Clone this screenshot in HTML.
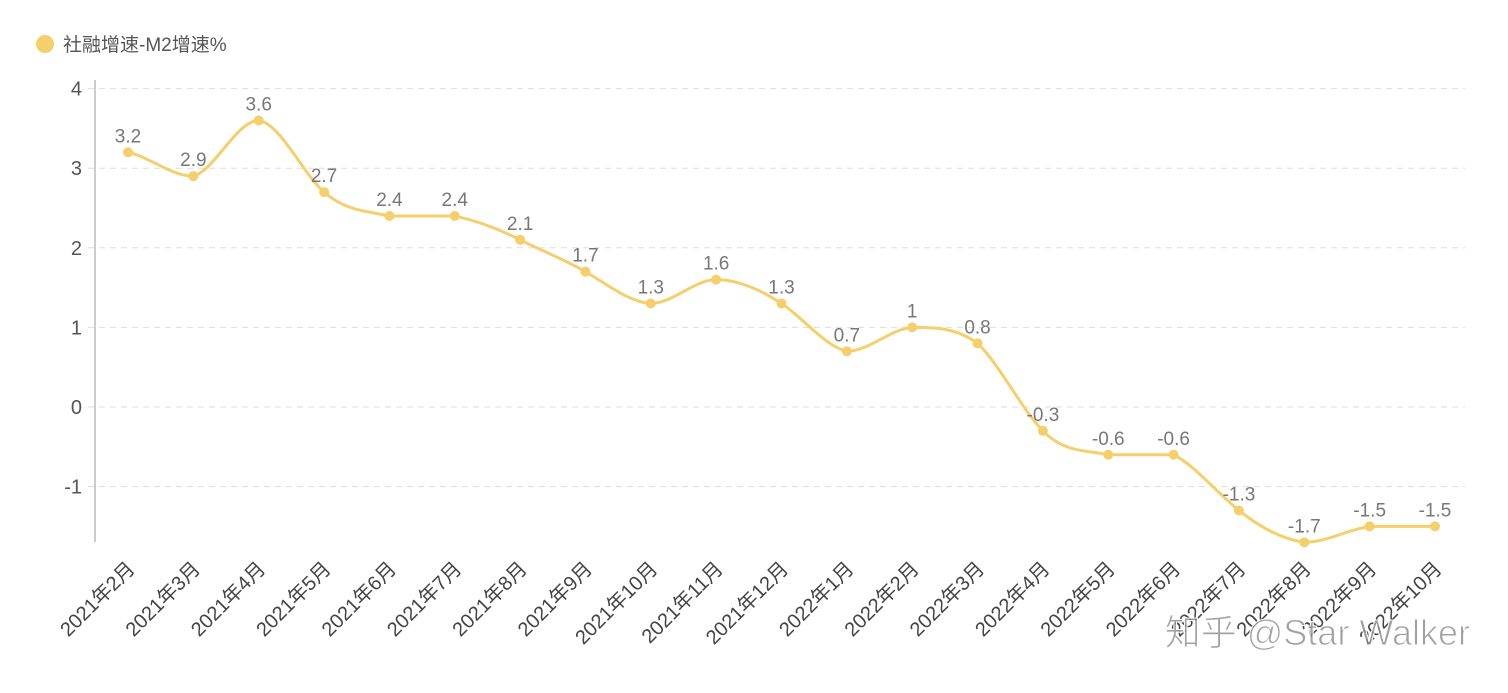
<!DOCTYPE html>
<html><head><meta charset="utf-8"><style>
html,body{margin:0;padding:0;background:#fff;}
svg{display:block;font-family:"Liberation Sans","Noto Sans CJK SC",sans-serif;}
</style></head><body>
<svg id="chart" width="1508" height="693">
  <g>
    <circle cx="45" cy="44" r="9" fill="#f5cf6b"/>
    <text x="63" y="51" font-size="19" fill="#555">社融增速-M2增速%</text>
  </g>
  <g id="grid"></g>
  <line x1="95" y1="80" x2="95" y2="542" stroke="#ccc" stroke-width="2"/>
  <g id="yticks"></g>
  <g id="xticks"></g>
  <path id="line" fill="none" stroke="#f5cf6b" stroke-width="3"/>
  <g id="points"></g>
  <text x="1470" y="645" text-anchor="end" font-size="36" fill="#8a8a8a" fill-opacity="0.8" stroke="#fff" stroke-width="1">知乎 @Star Walker</text>
</svg>
<script>
const categories=["2021年2月","2021年3月","2021年4月","2021年5月","2021年6月","2021年7月","2021年8月","2021年9月","2021年10月","2021年11月","2021年12月","2022年1月","2022年2月","2022年3月","2022年4月","2022年5月","2022年6月","2022年7月","2022年8月","2022年9月","2022年10月"];
const values=[3.2,2.9,3.6,2.7,2.4,2.4,2.1,1.7,1.3,1.6,1.3,0.7,1,0.8,-0.3,-0.6,-0.6,-1.3,-1.7,-1.5,-1.5];
const yTicks=[4,3,2,1,0,-1];
const NS="http://www.w3.org/2000/svg";
const x0=128,x1=1435,yZero=407,unit=79.6;
function xPos(i){return x0+(x1-x0)*i/(categories.length-1);}
function yPos(v){return yZero-v*unit;}
const grid=document.getElementById('grid'),yt=document.getElementById('yticks'),xt=document.getElementById('xticks');
yTicks.forEach(t=>{
  const l=document.createElementNS(NS,'line');
  l.setAttribute('x1',88);l.setAttribute('x2',1465);l.setAttribute('y1',yPos(t));l.setAttribute('y2',yPos(t));
  l.setAttribute('stroke','#ddd');l.setAttribute('stroke-dasharray','6,5');
  
  
  grid.appendChild(l);
  const tx=document.createElementNS(NS,'text');
  tx.setAttribute('x',82);tx.setAttribute('y',yPos(t)+7);tx.setAttribute('text-anchor','end');
  tx.setAttribute('font-size','20');tx.setAttribute('fill','#555');tx.textContent=t;
  
  
  yt.appendChild(tx);
});
categories.forEach((c,i)=>{
  const tx=document.createElementNS(NS,'text');
  const x=xPos(i)+8,y=570;
  tx.setAttribute('transform',`translate(${x},${y}) rotate(-45)`);
  tx.setAttribute('text-anchor','end');tx.setAttribute('font-size','20');tx.setAttribute('fill','#444');
  tx.textContent=c;
  
  
  xt.appendChild(tx);
});
const pts=values.map((v,i)=>[xPos(i),yPos(v)]);
let d=`M${pts[0][0]},${pts[0][1]}`;
for(let i=0;i<pts.length-1;i++){
  const p0=pts[Math.max(0,i-1)],p1=pts[i],p2=pts[i+1],p3=pts[Math.min(pts.length-1,i+2)];
  const k=0.2;
  let c1y=p1[1]+(p2[1]-p0[1])*k,c2y=p2[1]-(p3[1]-p1[1])*k;
  const lo=Math.min(p1[1],p2[1]),hi=Math.max(p1[1],p2[1]);
  c1y=Math.min(hi,Math.max(lo,c1y));c2y=Math.min(hi,Math.max(lo,c2y));
  const c1x=p1[0]+(p2[0]-p1[0])/3,c2x=p2[0]-(p2[0]-p1[0])/3;
  d+=` C${c1x},${c1y} ${c2x},${c2y} ${p2[0]},${p2[1]}`;
}
document.getElementById('line').setAttribute('d',d);
const pg=document.getElementById('points');
values.forEach((v,i)=>{
  const c=document.createElementNS(NS,'circle');
  c.setAttribute('cx',pts[i][0]);c.setAttribute('cy',pts[i][1]);c.setAttribute('r',5);c.setAttribute('fill','#f5cf6b');
  
  
  pg.appendChild(c);
  const t=document.createElementNS(NS,'text');
  t.setAttribute('x',pts[i][0]);t.setAttribute('y',pts[i][1]-10);t.setAttribute('text-anchor','middle');
  t.setAttribute('font-size','19');t.setAttribute('fill','#777');t.textContent=v;
  
  
  pg.appendChild(t);
});
</script>
</body></html>
